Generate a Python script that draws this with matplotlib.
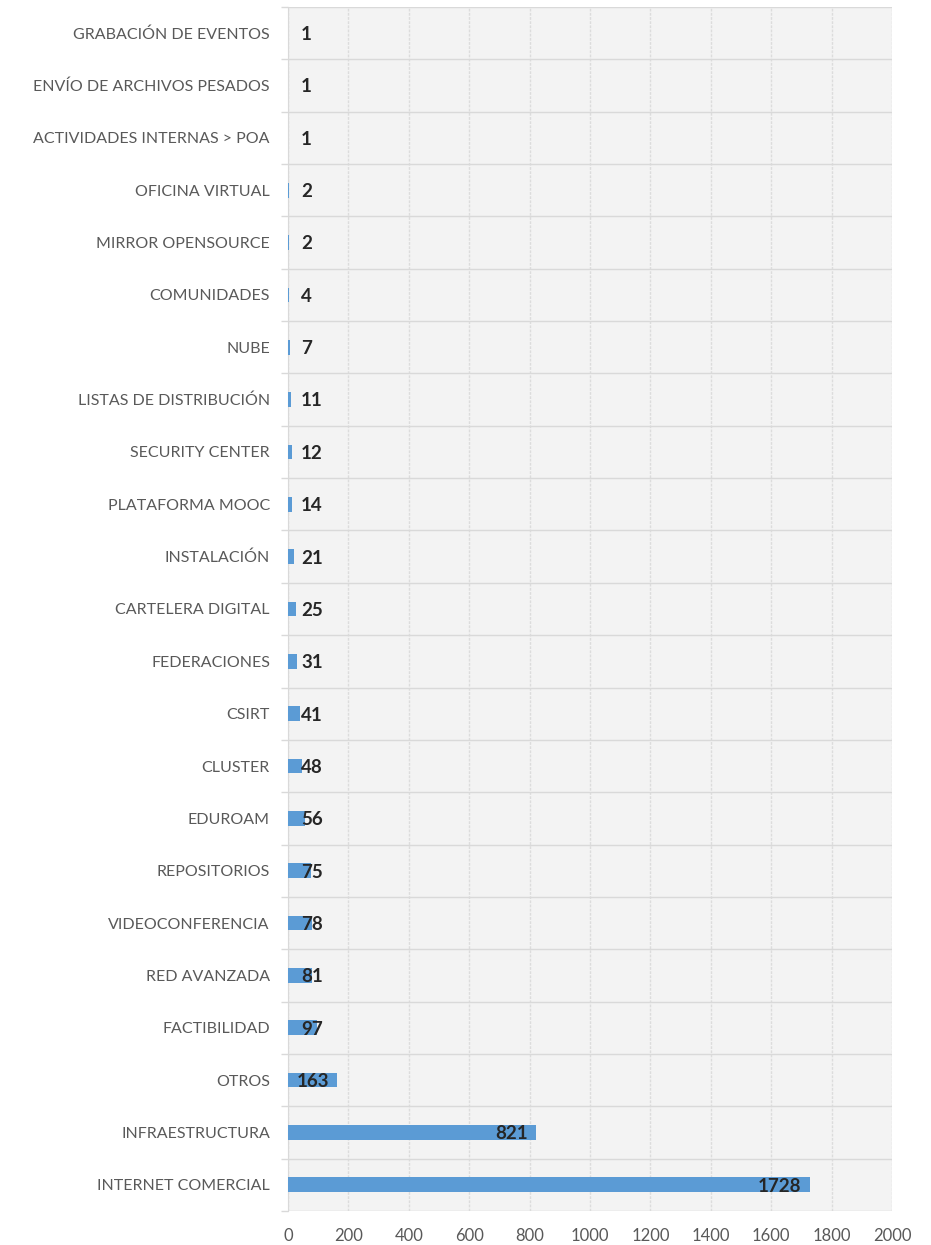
import matplotlib
matplotlib.use("Agg")
import matplotlib.pyplot as plt
import numpy as np

categories = [
    "GRABACIÓN DE EVENTOS", "ENVÍO DE ARCHIVOS PESADOS", "ACTIVIDADES INTERNAS > POA",
    "OFICINA VIRTUAL", "MIRROR OPENSOURCE", "COMUNIDADES", "NUBE",
    "LISTAS DE DISTRIBUCIÓN", "SECURITY CENTER", "PLATAFORMA MOOC", "INSTALACIÓN",
    "CARTELERA DIGITAL", "FEDERACIONES", "CSIRT", "CLUSTER", "EDUROAM",
    "REPOSITORIOS", "VIDEOCONFERENCIA", "RED AVANZADA", "FACTIBILIDAD", "OTROS",
    "INFRAESTRUCTURA", "INTERNET COMERCIAL",
]
values = [1, 1, 1, 2, 2, 4, 7, 11, 12, 14, 21, 25, 31, 41, 48, 56, 75, 78, 81, 97, 163, 821, 1728]
xticks = [0, 200, 400, 600, 800, 1000, 1200, 1400, 1600, 1800, 2000]

plt.rcParams['font.family'] = ['Lato', 'DejaVu Sans']

fig = plt.figure(figsize=(9.31, 12.45), dpi=100)
ax = fig.add_axes([288/931, 1 - 1211/1245, (892-288)/931, (1211-7)/1245])
ax.set_facecolor('#f3f3f3')

n = len(categories)
ypos = np.arange(n)
ax.barh(ypos, values, height=0.28, color='#5b9bd5', zorder=3)

ax.set_xlim(0, 2000)
ax.set_ylim(n - 0.5, -0.5)
ax.set_xticks(xticks)
ax.set_xticklabels([str(t) for t in xticks], fontsize=12, color='#595959')
ax.set_yticks(ypos)
ax.set_yticklabels(categories, fontsize=11.5, color='#595959')
ax.tick_params(axis='y', length=0, pad=13)
ax.tick_params(axis='x', length=0, pad=12)

# category boundaries
bounds = np.arange(-0.5, n, 1.0)
ax.set_yticks(bounds, minor=True)
ax.tick_params(axis='y', which='minor', length=5, color='#d9d9d9', width=1)
ax.grid(axis='y', which='minor', color='#d9d9d9', linewidth=1, zorder=1)
ax.grid(axis='x', which='major', color='#dcdcdc', linewidth=1, linestyle=(0, (2, 1)), zorder=1)
ax.grid(axis='y', which='major', visible=False)

for s in ['top', 'right', 'bottom']:
    ax.spines[s].set_visible(False)
ax.spines['left'].set_color('#d9d9d9')

for y, v in zip(ypos, values):
    if v > 120:
        ax.annotate(str(v), xy=(v, y), xytext=(-6, -1), textcoords='offset points',
                    ha='right', va='center', fontsize=13.5, fontweight='bold', color='#262626', zorder=4)
    else:
        ax.annotate(str(v), xy=(0, y), xytext=(9.5, -1), textcoords='offset points',
                    ha='left', va='center', fontsize=13.5, fontweight='bold', color='#262626', zorder=4)

fig.savefig('out.png', dpi=100, facecolor='white')
